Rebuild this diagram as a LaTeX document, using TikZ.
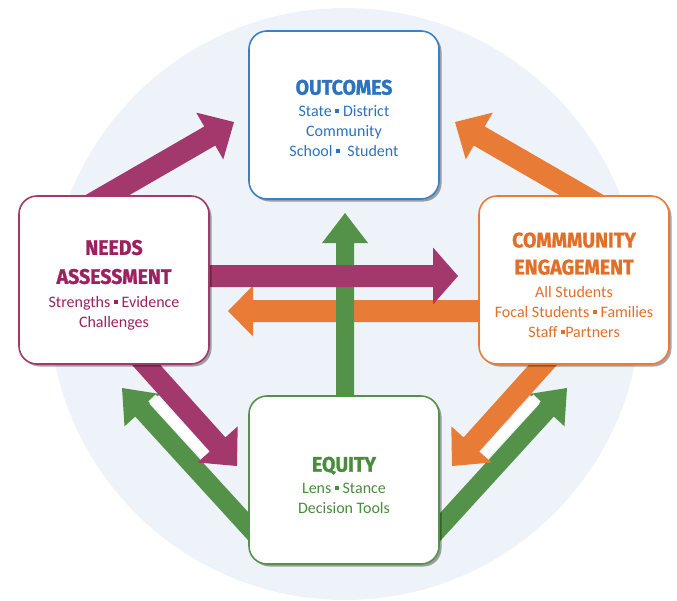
\documentclass[tikz,border=0pt]{standalone}
\usepackage{fontspec}
\setmainfont{Carlito}
\newfontfamily\titlefont[FakeStretch=0.93,FakeBold=1.2]{Fira Sans}
\usetikzlibrary{calc,shadows}
\definecolor{bgc}{HTML}{EEF3FA}
\definecolor{mag}{HTML}{A2386C}
\definecolor{magtxt}{HTML}{9C2160}
\definecolor{ora}{HTML}{E87C37}
\definecolor{oratxt}{HTML}{E06F2A}
\definecolor{grn}{HTML}{559249}
\definecolor{grntxt}{HTML}{4A8B3E}
\definecolor{blu}{HTML}{3E7FC1}
\definecolor{blutxt}{HTML}{2C72BE}
\newcommand\sqb{\rule[0.2em]{0.25em}{0.25em}}
\newcommand\ttl[1]{{\titlefont\bfseries\fontsize{21}{20}\selectfont #1}}
% #1 colour, #2 tail, #3 tip, #4 shaft width, #5 head width, #6 head length
\newcommand\blockarrow[6]{%
  \fill[#1] let \p1=(#2), \p2=(#3), \n1={atan2(\y2-\y1,\x2-\x1)}, \n2={veclen(\x2-\x1,\y2-\y1)} in
    ($(\p1)+({\n1+90}:{#4*0.5pt})$)
    -- ($(\p1)+(\n1:{\n2-#6pt})+({\n1+90}:{#4*0.5pt})$)
    -- ($(\p1)+(\n1:{\n2-#6pt})+({\n1+90}:{#5*0.5pt})$)
    -- (\p2)
    -- ($(\p1)+(\n1:{\n2-#6pt})+({\n1-90}:{#5*0.5pt})$)
    -- ($(\p1)+(\n1:{\n2-#6pt})+({\n1-90}:{#4*0.5pt})$)
    -- ($(\p1)+({\n1-90}:{#4*0.5pt})$) -- cycle;}
\tikzset{
  box/.style={draw=#1, line width=1.6pt, fill=white, rounded corners=18pt,
    minimum width=190pt, minimum height=168pt,
    drop shadow={shadow xshift=2.5pt, shadow yshift=-2.5pt, opacity=0.35, fill=black}},
  txt/.style={align=center, text=#1, font=\fontsize{16}{20}\selectfont, inner sep=0pt},
  gap/.style={white, line width=10pt}
}
\begin{document}
\begin{tikzpicture}[x=1pt,y=-1pt]
\useasboundingbox (0,0) rectangle (677,600);
\fill[bgc] (345,304) circle (296pt);
% arrow end points
\coordinate (a1t) at (69.5,217);  \coordinate (a1h) at (234,122);
\coordinate (a2t) at (619.5,217); \coordinate (a2h) at (455,122);
\coordinate (a3t) at (345,420);   \coordinate (a3h) at (345,213);
\coordinate (a4t) at (190,276);   \coordinate (a4h) at (458,276);
\coordinate (a5t) at (500,311);   \coordinate (a5h) at (228,311);
\coordinate (a6t) at (130,347);   \coordinate (a6h) at (237,466);
\coordinate (a7t) at (263.5,543); \coordinate (a7h) at (122,388);
\coordinate (a8t) at (559,347);   \coordinate (a8h) at (452,466);
\coordinate (a9t) at (425.5,543); \coordinate (a9h) at (567,388);
\coordinate (g1a) at (152,398); \coordinate (g1b) at (209,459);
\coordinate (g2a) at (537,398); \coordinate (g2b) at (480,459);
% arrows
\blockarrow{mag}{a1t}{a1h}{22}{54}{28}
\blockarrow{ora}{a2t}{a2h}{22}{54}{28}
\blockarrow{ora}{a5t}{a5h}{22}{51}{25}
\blockarrow{grn}{a3t}{a3h}{18}{46}{30}
\blockarrow{mag}{a4t}{a4h}{22}{57}{25}
\blockarrow{grn}{a7t}{a7h}{19}{48}{30}
\blockarrow{grn}{a9t}{a9h}{19}{48}{30}
\draw[gap] (g1a) -- (g1b);
\draw[gap] (g2a) -- (g2b);
\blockarrow{mag}{a6t}{a6h}{21}{54}{29}
\blockarrow{ora}{a8t}{a8h}{21}{54}{29}
% boxes
\node[box=blu] (out) at (344,115) {};
\node[box=mag] (need) at (114,280) {};
\node[box=ora] (comm) at (574,280) {};
\node[box=grn] (eq) at (344,480) {};
% texts
\node[txt=blutxt] (outt) at (344,118) {\ttl{OUTCOMES}\\[1.5pt] State \sqb{} District\\ Community\\ School \sqb{}\ \ Student};
\node[txt=magtxt] (needt) at (114,285) {\ttl{NEEDS}\\[9pt] \ttl{ASSESSMENT}\\[3.5pt] Strengths \sqb{} Evidence\\ Challenges};
\node[txt=oratxt] (commt) at (574,285) {\ttl{COMMMUNITY}\\[7pt] \ttl{ENGAGEMENT}\\[3pt] All Students\\ Focal Students \sqb{} Families\\ Staff \sqb Partners};
\node[txt=grntxt] (eqt) at (344,485) {\ttl{EQUITY}\\[1.5pt] Lens \sqb{} Stance\\ Decision Tools};
\end{tikzpicture}
\end{document}
